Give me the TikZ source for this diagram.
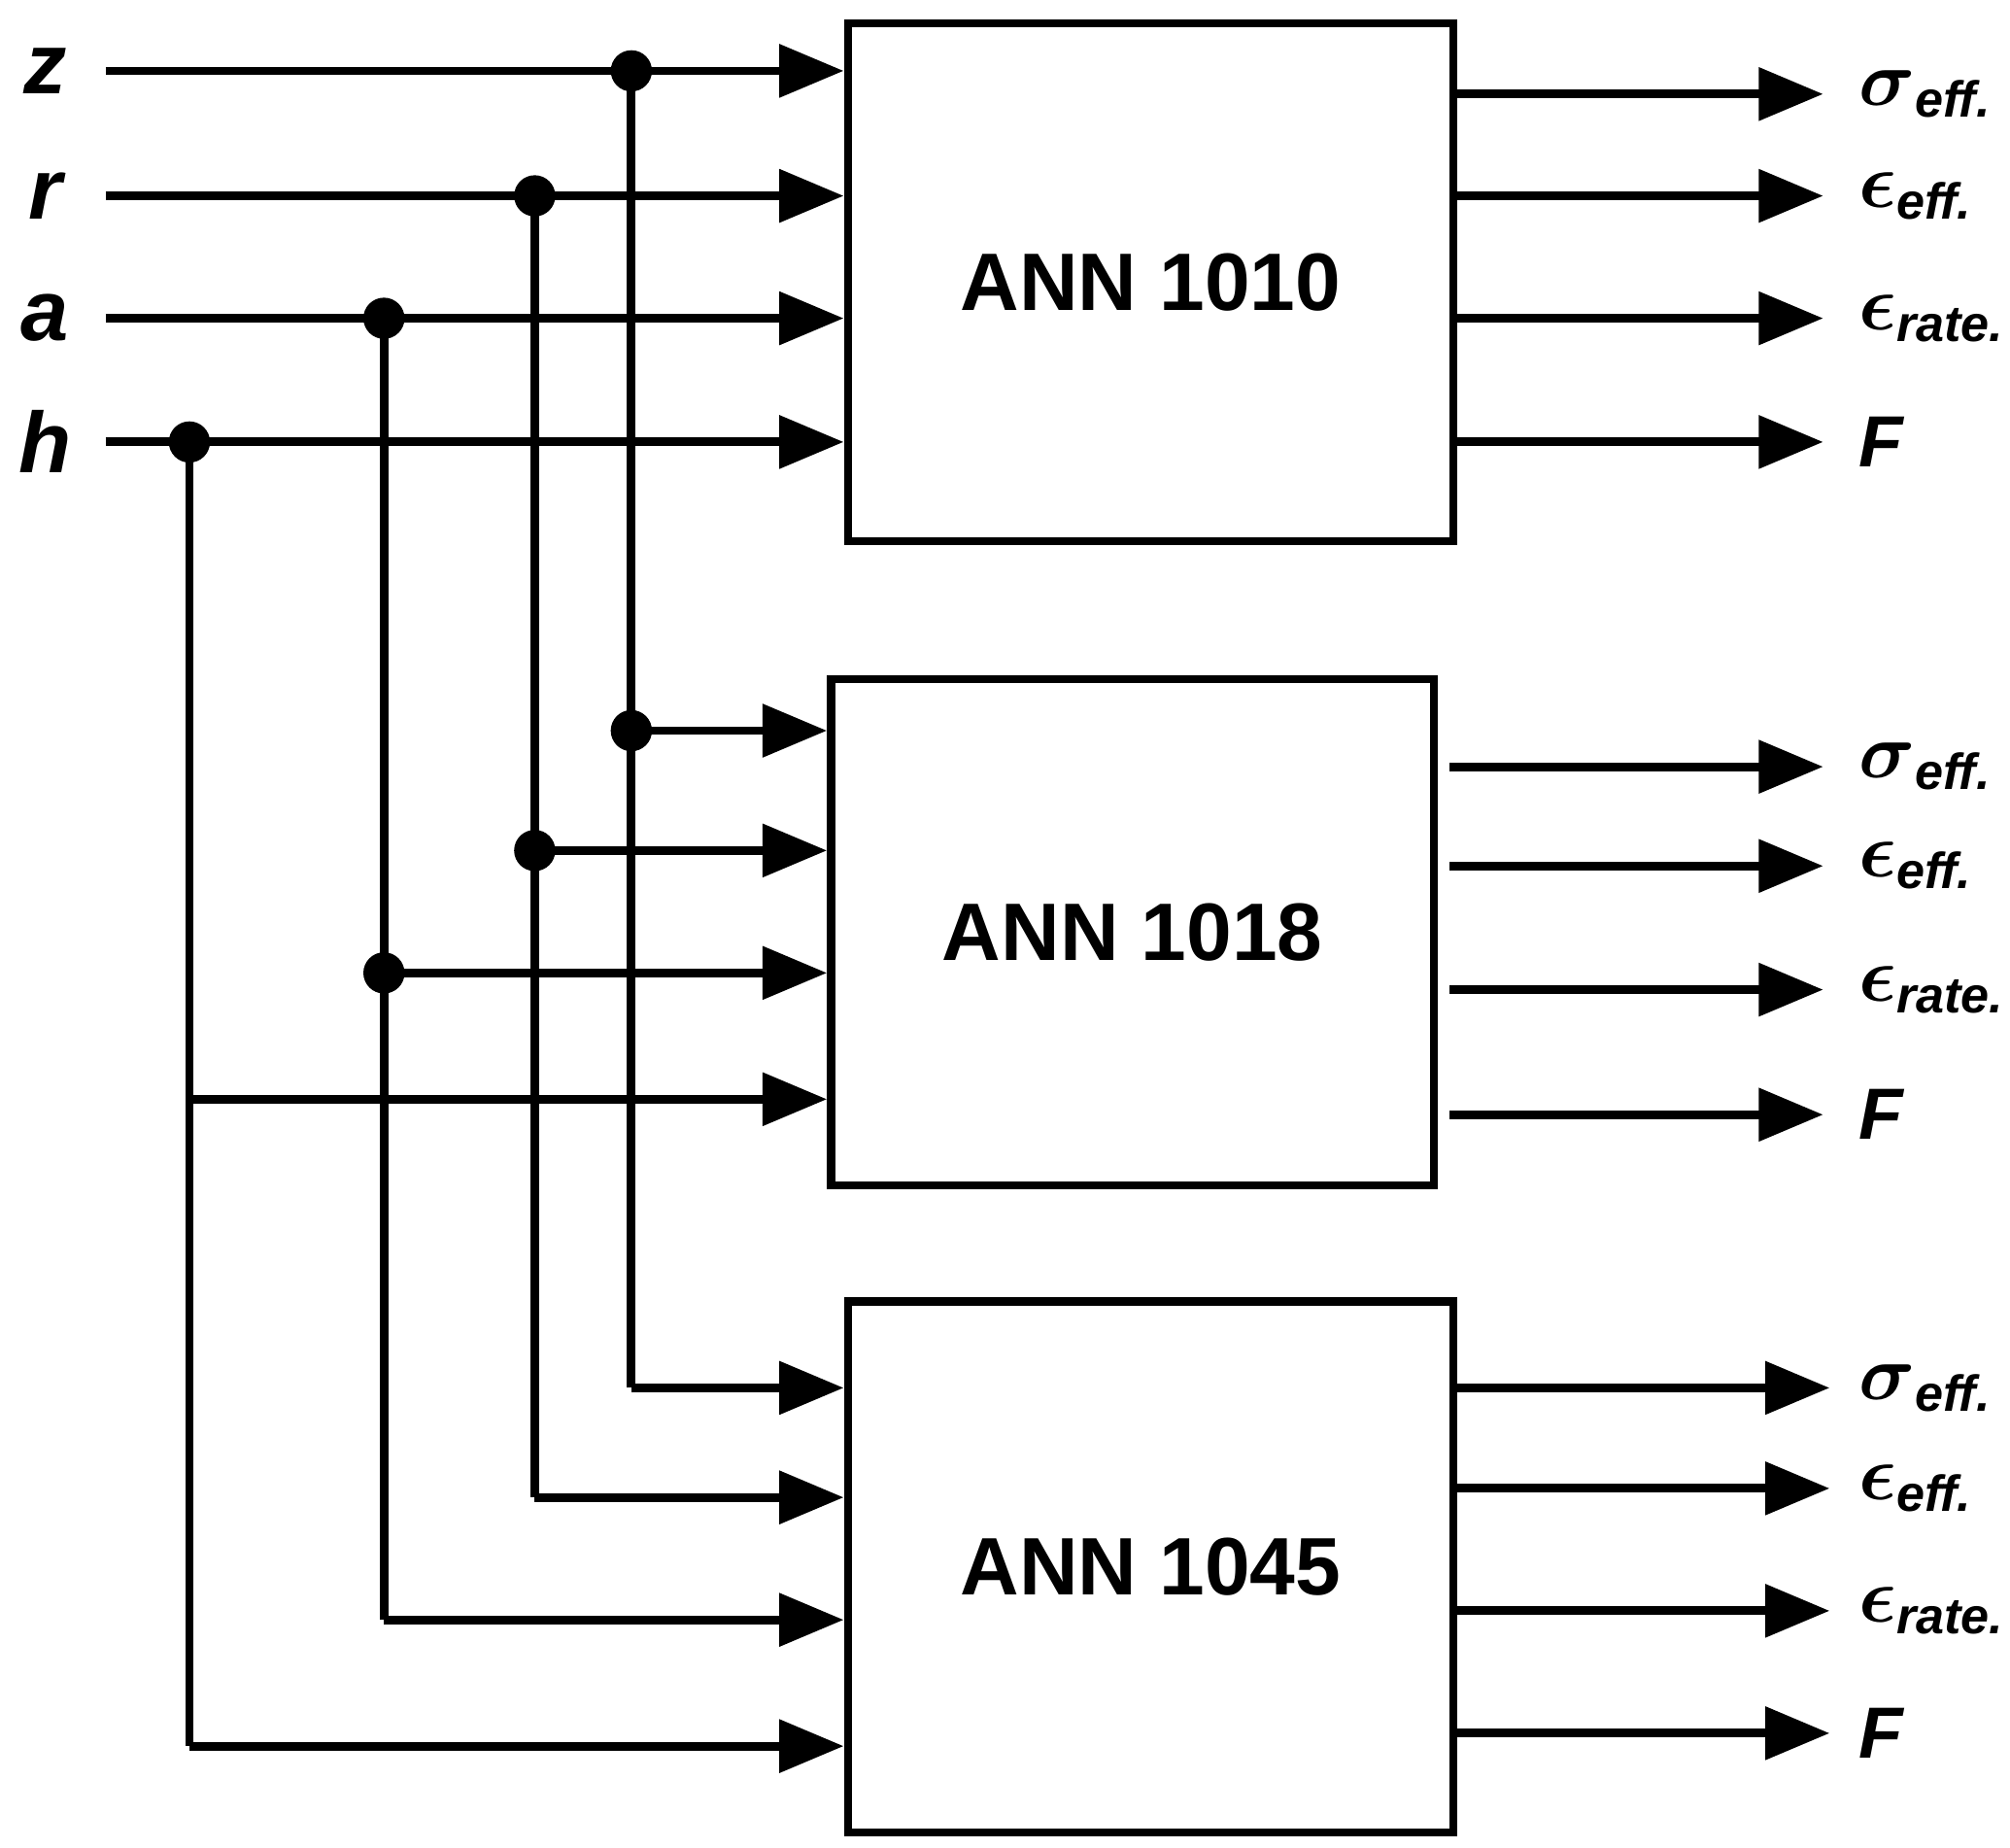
\documentclass[tikz,border=0pt]{standalone}
\usepackage{fontspec}
\setmainfont{Liberation Sans}
\usepackage{amsmath,bm}
\usetikzlibrary{positioning,arrows.meta}
\tikzset{
  ann/.style = {draw, line width=1.8pt, fill=white, font=\fontsize{18}{22}\selectfont\bfseries},
  wire/.style = {line width=1.9pt},
  feed/.style = {wire, -{Triangle[length=5mm,width=4mm]}},
  dot/.style = {circle, fill=black, inner sep=0pt, minimum size=3.2mm},
  inlab/.style = {font=\fontsize{19}{22}\selectfont\bfseries\itshape},
  outlab/.style = {anchor=west, font=\fontsize{16}{20}\selectfont\bfseries\itshape}
}
\newcommand{\effsig}{$\bm{\sigma}$\textsubscript{eff.}}
\newcommand{\effeps}{$\bm{\epsilon}$\textsubscript{eff.}}
\newcommand{\rateeps}{$\bm{\epsilon}$\textsubscript{rate.}}
\begin{document}
\begin{tikzpicture}
    \useasboundingbox (0,0) rectangle (15.6,14.34);
    %Blocks
    \node [ann, minimum width=4.7cm, minimum height=4.02cm] (ann1) at (8.93,12.15) {ANN 1010};
    \node [ann, minimum width=4.68cm, minimum height=3.93cm] (ann2) at (8.79,7.105) {ANN 1018};
    \node [ann, minimum width=4.7cm, minimum height=4.12cm] (ann3) at (8.93,2.18) {ANN 1045};
    %Inputs
    \foreach \n/\yi/\xv/\yb/\yc in {z/13.79/4.90/8.67/3.57, r/12.82/4.15/7.74/2.72, a/11.87/2.98/6.79/1.77, h/10.91/1.47/5.81/0.79} {
        \node [inlab] (\n lab) at (0.35,\yi) {\n};
        \coordinate (\n in) at (0.82,\yi);
        \node [dot] (\n dot) at (\xv,\yi) {};
        \coordinate (\n two) at (\xv,\yb);
        \coordinate (\n three) at (\xv,\yc);
        \draw [feed] (\n in) -- (ann1.west |- \n in);
        \draw [wire] (\n dot.center) -- (\n three);
        \draw [feed] (\n two) -- (ann2.west |- \n two);
        \draw [feed] (\n three) -- (ann3.west |- \n three);
    }
    \node [dot] at (ztwo) {};
    \node [dot] at (rtwo) {};
    \node [dot] at (atwo) {};
    %Outputs
    \foreach \b/\ya/\yb/\yc/\yd/\xs/\xe in {1/13.61/12.82/11.87/10.91/11.28/14.15, 2/8.39/7.62/6.66/5.69/11.25/14.15, 3/3.57/2.79/1.84/0.89/11.28/14.2} {
        \foreach \y/\t/\k in {\ya/\effsig/s, \yb/\effeps/e, \yc/\rateeps/r, \yd/F/f} {
            \coordinate (o\b\k) at (\xs,\y);
            \node [outlab] (l\b\k) at (14.3,\y) {\t};
            \draw [feed] (o\b\k) -- (\xe,\y);
        }
    }
\end{tikzpicture}
\end{document}
